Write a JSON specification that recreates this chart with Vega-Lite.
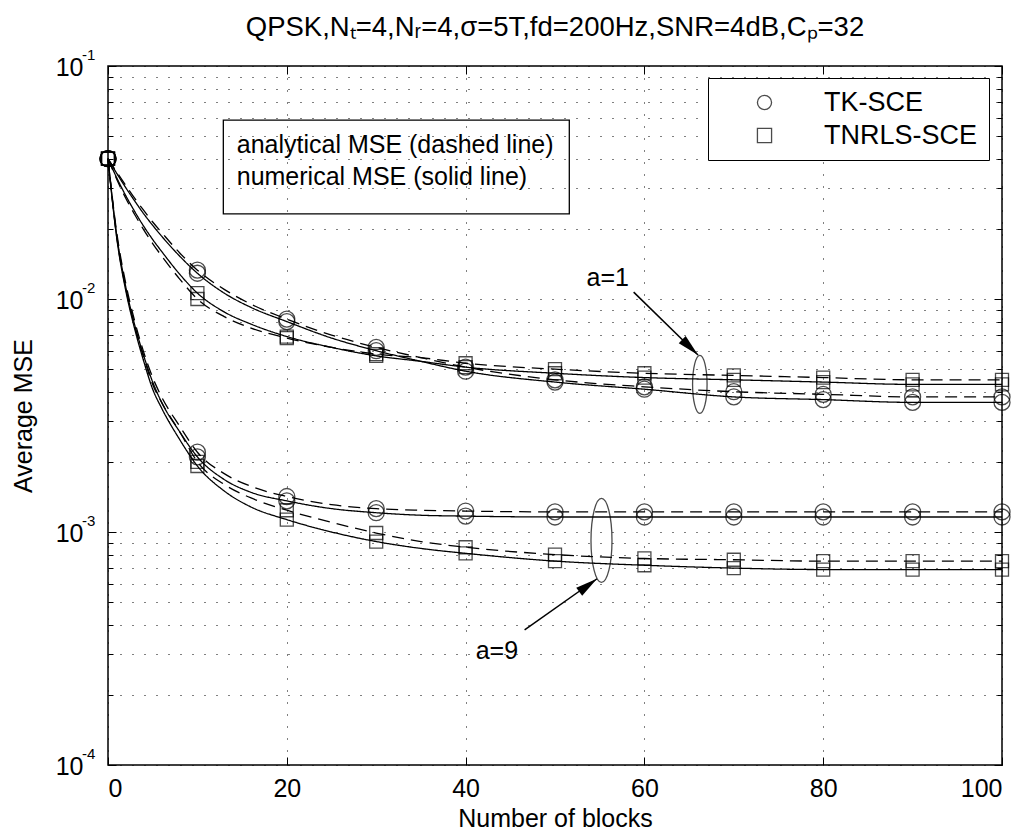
{
 "$schema": "https://vega.github.io/schema/vega-lite/v6.json",
 "width": 894, "height": 699,
 "autosize": {"type": "none"},
 "padding": {"left": 108, "top": 66, "right": 30, "bottom": 66},
 "config": {"font": "Liberation Sans", "view": {"stroke": "black", "strokeWidth": 1.5}},
 "title": {"text": "QPSK,Nₜ=4,Nᵣ=4,σ=5T,fd=200Hz,SNR=4dB,Cₚ=32", "fontSize": 27.5, "fontWeight": "normal", "color": "black", "anchor": "middle", "offset": -15, "baseline": "alphabetic"},
 "resolve": {"axis": {"x": "independent", "y": "independent"}},
 "datasets": {
  "curves": [
   {"x":0,"m":"TK-SCE","a":"1","ana":0.04,"num":0.04},
   {"x":1,"m":"TK-SCE","a":"1","ana":0.0350,"num":0.0345},
   {"x":2,"m":"TK-SCE","a":"1","ana":0.0307,"num":0.0300},
   {"x":3,"m":"TK-SCE","a":"1","ana":0.0270,"num":0.0263},
   {"x":4,"m":"TK-SCE","a":"1","ana":0.0240,"num":0.0232},
   {"x":5,"m":"TK-SCE","a":"1","ana":0.0214,"num":0.0207},
   {"x":6,"m":"TK-SCE","a":"1","ana":0.0193,"num":0.0186},
   {"x":8,"m":"TK-SCE","a":"1","ana":0.0158,"num":0.0153},
   {"x":10,"m":"TK-SCE","a":"1","ana":0.0133,"num":0.0129},
   {"x":13,"m":"TK-SCE","a":"1","ana":0.0110,"num":0.0106},
   {"x":16,"m":"TK-SCE","a":"1","ana":0.0095,"num":0.0092},
   {"x":20,"m":"TK-SCE","a":"1","ana":0.0082,"num":0.0080},
   {"x":25,"m":"TK-SCE","a":"1","ana":0.0070,"num":0.0068},
   {"x":30,"m":"TK-SCE","a":"1","ana":0.0062,"num":0.0060},
   {"x":35,"m":"TK-SCE","a":"1","ana":0.0056,"num":0.0054},
   {"x":40,"m":"TK-SCE","a":"1","ana":0.0051,"num":0.0049},
   {"x":50,"m":"TK-SCE","a":"1","ana":0.0045,"num":0.0044},
   {"x":60,"m":"TK-SCE","a":"1","ana":0.0042,"num":0.0041},
   {"x":70,"m":"TK-SCE","a":"1","ana":0.0040,"num":0.0038},
   {"x":80,"m":"TK-SCE","a":"1","ana":0.0039,"num":0.0037},
   {"x":90,"m":"TK-SCE","a":"1","ana":0.0038,"num":0.0036},
   {"x":100,"m":"TK-SCE","a":"1","ana":0.0038,"num":0.0036},
   {"x":0,"m":"TNRLS-SCE","a":"1","ana":0.04,"num":0.04},
   {"x":1,"m":"TNRLS-SCE","a":"1","ana":0.0325,"num":0.0330},
   {"x":2,"m":"TNRLS-SCE","a":"1","ana":0.0270,"num":0.0277},
   {"x":3,"m":"TNRLS-SCE","a":"1","ana":0.0230,"num":0.0237},
   {"x":4,"m":"TNRLS-SCE","a":"1","ana":0.0198,"num":0.0205},
   {"x":5,"m":"TNRLS-SCE","a":"1","ana":0.0173,"num":0.0180},
   {"x":6,"m":"TNRLS-SCE","a":"1","ana":0.0153,"num":0.0160},
   {"x":8,"m":"TNRLS-SCE","a":"1","ana":0.0122,"num":0.0128},
   {"x":10,"m":"TNRLS-SCE","a":"1","ana":0.0100,"num":0.0106},
   {"x":13,"m":"TNRLS-SCE","a":"1","ana":0.0084,"num":0.0088},
   {"x":16,"m":"TNRLS-SCE","a":"1","ana":0.0075,"num":0.0078},
   {"x":20,"m":"TNRLS-SCE","a":"1","ana":0.0068,"num":0.0069},
   {"x":25,"m":"TNRLS-SCE","a":"1","ana":0.0062,"num":0.0062},
   {"x":30,"m":"TNRLS-SCE","a":"1","ana":0.0058,"num":0.0057},
   {"x":35,"m":"TNRLS-SCE","a":"1","ana":0.0056,"num":0.0054},
   {"x":40,"m":"TNRLS-SCE","a":"1","ana":0.0053,"num":0.0051},
   {"x":50,"m":"TNRLS-SCE","a":"1","ana":0.0050,"num":0.0048},
   {"x":60,"m":"TNRLS-SCE","a":"1","ana":0.0048,"num":0.0046},
   {"x":70,"m":"TNRLS-SCE","a":"1","ana":0.0047,"num":0.0045},
   {"x":80,"m":"TNRLS-SCE","a":"1","ana":0.0046,"num":0.0044},
   {"x":90,"m":"TNRLS-SCE","a":"1","ana":0.0045,"num":0.0043},
   {"x":100,"m":"TNRLS-SCE","a":"1","ana":0.0045,"num":0.0043},
   {"x":0,"m":"TK-SCE","a":"9","ana":0.04,"num":0.04},
   {"x":1,"m":"TK-SCE","a":"9","ana":0.0190,"num":0.0185},
   {"x":2,"m":"TK-SCE","a":"9","ana":0.0116,"num":0.0112},
   {"x":3,"m":"TK-SCE","a":"9","ana":0.0080,"num":0.0077},
   {"x":4,"m":"TK-SCE","a":"9","ana":0.0059,"num":0.0057},
   {"x":5,"m":"TK-SCE","a":"9","ana":0.0046,"num":0.0044},
   {"x":6,"m":"TK-SCE","a":"9","ana":0.0038,"num":0.0036},
   {"x":8,"m":"TK-SCE","a":"9","ana":0.00285,"num":0.0027},
   {"x":10,"m":"TK-SCE","a":"9","ana":0.0022,"num":0.0021},
   {"x":13,"m":"TK-SCE","a":"9","ana":0.00178,"num":0.00168},
   {"x":16,"m":"TK-SCE","a":"9","ana":0.00157,"num":0.00148},
   {"x":20,"m":"TK-SCE","a":"9","ana":0.00142,"num":0.00136},
   {"x":25,"m":"TK-SCE","a":"9","ana":0.00131,"num":0.00126},
   {"x":30,"m":"TK-SCE","a":"9","ana":0.00126,"num":0.00121},
   {"x":35,"m":"TK-SCE","a":"9","ana":0.00124,"num":0.00118},
   {"x":40,"m":"TK-SCE","a":"9","ana":0.00123,"num":0.00117},
   {"x":50,"m":"TK-SCE","a":"9","ana":0.00122,"num":0.00116},
   {"x":60,"m":"TK-SCE","a":"9","ana":0.00122,"num":0.00116},
   {"x":70,"m":"TK-SCE","a":"9","ana":0.00122,"num":0.00116},
   {"x":80,"m":"TK-SCE","a":"9","ana":0.00122,"num":0.00116},
   {"x":90,"m":"TK-SCE","a":"9","ana":0.00122,"num":0.00116},
   {"x":100,"m":"TK-SCE","a":"9","ana":0.00122,"num":0.00116},
   {"x":0,"m":"TNRLS-SCE","a":"9","ana":0.04,"num":0.04},
   {"x":1,"m":"TNRLS-SCE","a":"9","ana":0.0182,"num":0.0180},
   {"x":2,"m":"TNRLS-SCE","a":"9","ana":0.0110,"num":0.0108},
   {"x":3,"m":"TNRLS-SCE","a":"9","ana":0.0076,"num":0.0074},
   {"x":4,"m":"TNRLS-SCE","a":"9","ana":0.0056,"num":0.0054},
   {"x":5,"m":"TNRLS-SCE","a":"9","ana":0.0043,"num":0.0041},
   {"x":6,"m":"TNRLS-SCE","a":"9","ana":0.0036,"num":0.0034},
   {"x":8,"m":"TNRLS-SCE","a":"9","ana":0.0027,"num":0.0025},
   {"x":10,"m":"TNRLS-SCE","a":"9","ana":0.0020,"num":0.00192},
   {"x":13,"m":"TNRLS-SCE","a":"9","ana":0.00160,"num":0.00150},
   {"x":16,"m":"TNRLS-SCE","a":"9","ana":0.00140,"num":0.00128},
   {"x":20,"m":"TNRLS-SCE","a":"9","ana":0.00124,"num":0.00113},
   {"x":25,"m":"TNRLS-SCE","a":"9","ana":0.00110,"num":0.00100},
   {"x":30,"m":"TNRLS-SCE","a":"9","ana":0.00099,"num":0.00091},
   {"x":35,"m":"TNRLS-SCE","a":"9","ana":0.00091,"num":0.00085},
   {"x":40,"m":"TNRLS-SCE","a":"9","ana":0.00086,"num":0.00081},
   {"x":50,"m":"TNRLS-SCE","a":"9","ana":0.00080,"num":0.00075},
   {"x":60,"m":"TNRLS-SCE","a":"9","ana":0.00077,"num":0.00072},
   {"x":70,"m":"TNRLS-SCE","a":"9","ana":0.00076,"num":0.00070},
   {"x":80,"m":"TNRLS-SCE","a":"9","ana":0.00075,"num":0.00069},
   {"x":90,"m":"TNRLS-SCE","a":"9","ana":0.00075,"num":0.00069},
   {"x":100,"m":"TNRLS-SCE","a":"9","ana":0.00075,"num":0.00069}
  ],
  "ellipses": [{"a":"1","x":66.2,"y":0.0043},{"a":"9","x":55.2,"y":0.00092}],
  "arrows": [{"a":"1","x":58.8,"y":0.0107,"x2":66.0,"y2":0.00575},{"a":"9","x":46.6,"y":0.00038,"x2":54.7,"y2":0.00063}],
  "labels": [{"x":55.9,"y":0.0123,"t":"a=1"},{"x":43.5,"y":0.00031,"t":"a=9"}],
  "note": [{"x":14.4,"y":0.0423,"t":"analytical MSE (dashed line)"},{"x":14.4,"y":0.0308,"t":"numerical MSE (solid line)"}],
  "notebox": [{"x":12.9,"x2":51.6,"y":0.0586,"y2":0.0232}],
  "exps": [{"x":0,"y":0.1,"e":"-1"},{"x":0,"y":0.01,"e":"-2"},{"x":0,"y":0.001,"e":"-3"},{"x":0,"y":0.0001,"e":"-4"}]
 },
 "layer": [
  {
   "data": {"name": "curves"},
   "transform": [{"fold": ["ana", "num"], "as": ["k", "v"]}],
   "mark": {"type": "line", "interpolate": "monotone", "color": "black", "strokeWidth": 1.3},
   "encoding": {
    "x": {"field": "x", "type": "quantitative", "scale": {"domain": [0, 100], "nice": false},
     "axis": {"orient": "bottom", "values": [0, 20, 40, 60, 80, 100], "grid": true, "gridDash": [1, 11], "gridColor": "black", "gridWidth": 1, "domain": false, "tickSize": -8, "tickColor": "black", "labelFontSize": 25, "labelColor": "black", "labelPadding": 19, "title": "Number of blocks", "titleFontSize": 25, "titleFontWeight": "normal", "titleColor": "black", "titleY": 61, "titleBaseline": "alphabetic"}},
    "y": {"field": "v", "type": "quantitative", "scale": {"type": "log", "domain": [0.0001, 0.1], "nice": false},
     "axis": {"orient": "left", "values": [0.0001,0.0002,0.0003,0.0004,0.0005,0.0006,0.0007,0.0008,0.0009,0.001,0.002,0.003,0.004,0.005,0.006,0.007,0.008,0.009,0.01,0.02,0.03,0.04,0.05,0.06,0.07,0.08,0.09,0.1],
      "labelExpr": "datum.value == 0.1 || datum.value == 0.01 || datum.value == 0.001 || datum.value == 0.0001 ? '10' : ''",
      "grid": true, "gridDash": [1, 11], "gridColor": "black", "gridWidth": 1, "domain": false,
      "tickSize": {"condition": {"test": "datum.value == 0.1 || datum.value == 0.01 || datum.value == 0.001 || datum.value == 0.0001", "value": -8}, "value": -5},
      "tickColor": "black", "labelFontSize": 25, "labelColor": "black", "labelPadding": 33, "labelBaseline": "middle", "labelOffset": 1,
      "title": "Average MSE", "titleFontSize": 25, "titleFontWeight": "normal", "titleColor": "black", "titleX": -85, "titleY": 349.5, "titleAngle": -90, "titleBaseline": "middle", "titleAlign": "center"}},
    "detail": [{"field": "m"}, {"field": "a"}, {"field": "k"}],
    "strokeDash": {"field": "k", "type": "nominal", "scale": {"domain": ["ana", "num"], "range": [[12, 7], [1, 0]]}, "legend": null}
   }
  },
  {
   "data": {"name": "curves"},
   "transform": [{"fold": ["ana", "num"], "as": ["k", "v"]}, {"filter": "datum.x % 10 == 0"}],
   "mark": {"type": "point", "filled": false, "strokeWidth": 1.3, "color": "black"},
   "encoding": {
    "x": {"field": "x", "type": "quantitative", "axis": {"orient": "top", "values": [0, 20, 40, 60, 80, 100], "labels": false, "title": null, "grid": false, "domain": false, "tickSize": -8, "tickColor": "black"}},
    "y": {"field": "v", "type": "quantitative", "axis": {"orient": "right", "values": [0.0001,0.0002,0.0003,0.0004,0.0005,0.0006,0.0007,0.0008,0.0009,0.001,0.002,0.003,0.004,0.005,0.006,0.007,0.008,0.009,0.01,0.02,0.03,0.04,0.05,0.06,0.07,0.08,0.09,0.1], "labels": false, "title": null, "grid": false, "domain": false, "tickColor": "black",
      "tickSize": {"condition": {"test": "datum.value == 0.1 || datum.value == 0.01 || datum.value == 0.001 || datum.value == 0.0001", "value": -8}, "value": -5}}},
    "shape": {"field": "m", "type": "nominal", "scale": {"domain": ["TK-SCE", "TNRLS-SCE"], "range": ["circle", "square"]},
     "legend": {"title": null, "orient": "none", "legendX": 600, "legendY": 12, "fillColor": "white", "strokeColor": "black", "padding": 11, "symbolOffset": 32, "labelOffset": 46, "labelFontSize": 27, "labelColor": "black", "symbolSize": 200, "symbolStrokeColor": "black", "symbolStrokeWidth": 1.3, "symbolFillColor": "transparent", "rowPadding": 5}},
    "size": {"condition": {"test": "datum.m == 'TK-SCE'", "value": 256}, "value": 169}
   }
  },
  {
   "data": {"name": "notebox"},
   "mark": {"type": "rect", "fill": null, "stroke": "black", "strokeWidth": 1.3},
   "encoding": {"x": {"field": "x", "type": "quantitative", "axis": null}, "x2": {"field": "x2"}, "y": {"field": "y", "type": "quantitative", "axis": null}, "y2": {"field": "y2"}}
  },
  {
   "data": {"name": "note"},
   "mark": {"type": "text", "align": "left", "baseline": "alphabetic", "fontSize": 25, "color": "black"},
   "encoding": {"x": {"field": "x", "type": "quantitative", "axis": null}, "y": {"field": "y", "type": "quantitative", "axis": null}, "text": {"field": "t"}}
  },
  {
   "data": {"name": "exps"},
   "mark": {"type": "text", "align": "left", "baseline": "middle", "fontSize": 15, "color": "black", "dx": -26, "dy": -11},
   "encoding": {"x": {"field": "x", "type": "quantitative", "axis": null}, "y": {"field": "y", "type": "quantitative", "axis": null}, "text": {"field": "e"}}
  },
  {
   "data": {"name": "ellipses"},
   "mark": {"type": "point", "filled": false, "stroke": "black", "strokeWidth": 1.3, "shape": "M-0.25,0 A0.25,1 0 1,1 0.25,0 A0.25,1 0 1,1 -0.25,0 Z"},
   "encoding": {"x": {"field": "x", "type": "quantitative", "axis": null}, "y": {"field": "y", "type": "quantitative", "axis": null},
    "size": {"condition": {"test": "datum.a == '1'", "value": 3364}, "value": 7056}}
  },
  {
   "data": {"name": "arrows"},
   "mark": {"type": "rule", "color": "black", "strokeWidth": 1.5},
   "encoding": {"x": {"field": "x", "type": "quantitative", "axis": null}, "y": {"field": "y", "type": "quantitative", "axis": null}, "x2": {"field": "x2"}, "y2": {"field": "y2"}}
  },
  {
   "data": {"name": "arrows"},
   "mark": {"type": "point", "filled": true, "color": "black", "opacity": 1, "shape": "M0,0 L0.5,2.2 L-0.5,2.2 Z", "size": 400},
   "encoding": {"x": {"field": "x2", "type": "quantitative", "axis": null}, "y": {"field": "y2", "type": "quantitative", "axis": null},
    "angle": {"condition": {"test": "datum.a == '1'", "value": 134}, "value": 54}}
  },
  {
   "data": {"name": "labels"},
   "mark": {"type": "text", "align": "center", "baseline": "middle", "fontSize": 25, "color": "black"},
   "encoding": {"x": {"field": "x", "type": "quantitative", "axis": null}, "y": {"field": "y", "type": "quantitative", "axis": null}, "text": {"field": "t"}}
  }
 ]
}
